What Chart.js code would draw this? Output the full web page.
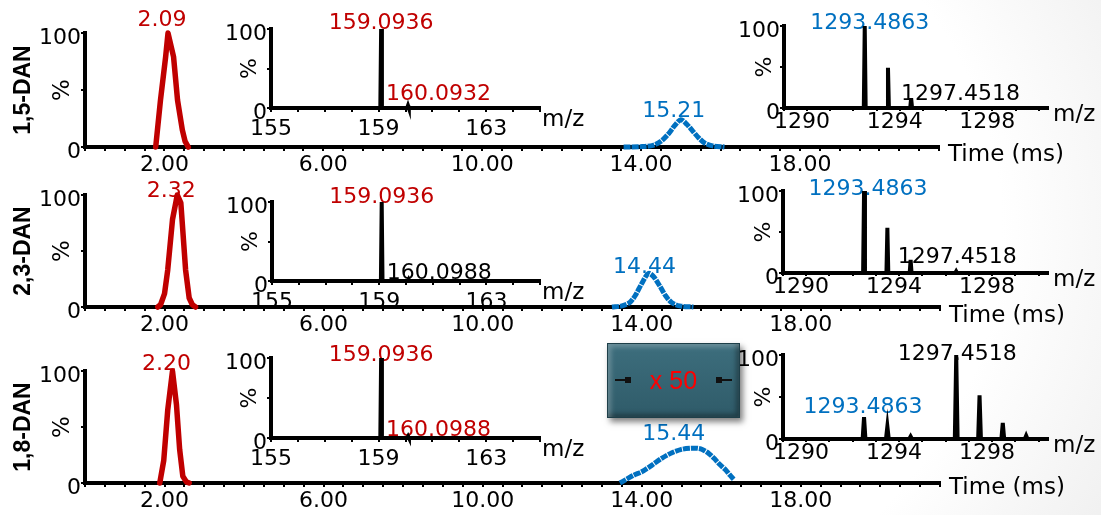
<!DOCTYPE html>
<html lang="en">
<head>
<meta charset="UTF-8">
<title>DAN isomers - arrival time and mass spectra</title>
<script src="https://cdn.jsdelivr.net/npm/chart.js"></script>
<style>
  html, body { margin: 0; padding: 0; }
  body { width: 1101px; height: 515px; position: relative; overflow: hidden;
         background: radial-gradient(ellipse 80% 130% at 35% 45%, #ffffff 70%, #ebebeb 100%); }
  canvas { position: absolute; }
  .mag { position: absolute; left: 607px; top: 343px; width: 133px; height: 75px; box-sizing: border-box;
         background: linear-gradient(#3d6e7d, #2f5b69); border: 1px solid #1e3f49;
         box-shadow: 3px 4px 6px rgba(0,0,0,0.5), inset 3px 3px 5px rgba(255,255,255,0.25), inset -3px -3px 5px rgba(0,0,0,0.35);
         color: #ff0000; font: 25px "Liberation Sans", Arial, sans-serif; text-align: center; line-height: 73px; }
  .mag .l, .mag .r { position: absolute; top: 35px; width: 16px; height: 2px; background: #111; }
  .mag .l { left: 7px; } .mag .r { right: 7px; }
  .mag .l::after, .mag .r::after { content: ""; position: absolute; top: -2px; width: 6px; height: 6px; background: #111; }
  .mag .l::after { right: 0; } .mag .r::after { left: 0; }
</style>
</head>
<body>
<canvas id="main1"></canvas><canvas id="main2"></canvas><canvas id="main3"></canvas>
<canvas id="low1"></canvas><canvas id="low2"></canvas><canvas id="low3"></canvas>
<canvas id="high1"></canvas><canvas id="high2"></canvas><canvas id="high3"></canvas>
<div class="mag"><span class="l"></span>x 50<span class="r"></span></div>

<script>
// tick labels
const timeTicks = [2, 6, 10, 14, 18];
const lowMzTicks = [155, 159, 163];
const highMzTicks = [1290, 1294, 1298];

// arrival time traces (ms, %)
const red15T = [1.78, 1.9, 2.03, 2.09, 2.23, 2.33, 2.45, 2.52, 2.6];
const red15I = [0, 41, 79, 100, 79, 41, 15, 5, 0];
const blue15T = [13.56, 14.0, 14.3, 14.5, 14.7, 14.85, 15.0, 15.15, 15.3, 15.45, 15.6, 15.8, 16.1];
const blue15I = [0, 0.3, 1.5, 5, 12, 19, 24, 20, 14, 8, 3.5, 1, 0];

const red23T = [1.83, 1.9, 2.0, 2.08, 2.2, 2.32, 2.41, 2.53, 2.62, 2.7, 2.78];
const red23I = [0, 2, 12, 33, 78, 100, 93, 33, 8, 2, 0];
const blue23T = [13.25, 13.5, 13.7, 13.85, 14.0, 14.17, 14.3, 14.45, 14.6, 14.75, 14.95, 15.3];
const blue23I = [0, 1, 4, 11, 21, 30, 27, 19, 10, 4, 1, 0];

const red18T = [1.88, 1.98, 2.08, 2.2, 2.3, 2.38, 2.46, 2.55, 2.62];
const red18I = [0, 20, 65, 100, 70, 30, 6, 1, 0];
const blue18T = [13.45, 13.6, 13.8, 14.0, 14.26, 14.5, 14.76, 15.0, 15.21, 15.4, 15.52, 15.7, 15.82, 15.95, 16.1, 16.22, 16.32];
const blue18I = [0, 3, 7, 10, 16, 22, 27, 30, 31, 31, 30, 26, 22, 17, 12, 7, 3];

// mass spectra (m/z, %)
const low15Mz = [159.0936, 160.0932], low15I = [100, 3];
const low23Mz = [159.0936, 160.0988], low23I = [100, 2];
const low18Mz = [159.0936, 160.0988], low18I = [100, 2];
const high15Mz = [1293.4863, 1294.49, 1295.49], high15I = [100, 49, 12];
const high23Mz = [1293.4863, 1294.49, 1295.49, 1297.45], high23I = [100, 55, 16, 2];
const high18Mz = [1293.4863, 1294.49, 1295.49, 1297.4518, 1298.455, 1299.455, 1300.46];
const high18I = [26, 15, 3, 100, 52, 19, 4];

const RED = '#c00000', BLUE = '#0070c0';
Chart.defaults.font.family = '"DejaVu Sans", sans-serif';
Chart.defaults.color = '#000';

const xy = (xs, ys) => xs.map((x, i) => ({ x, y: ys[i] }));
const sticks = (mz, ints, w) => mz.flatMap((m, i) => [{ x: m - w, y: 0 }, { x: m, y: ints[i] }, { x: m + w, y: 0 }]);

function notes(list) {
  return {
    id: 'notes',
    beforeDatasetsDraw(chart) {
      const { ctx, chartArea: ca, scales } = chart;
      list.forEach(n => {
        let x, y;
        if (n.at) { x = scales.x.getPixelForValue(n.at[0]); y = scales.y.getPixelForValue(n.at[1]); }
        else { x = n.px(ca); y = n.py(ca); }
        ctx.save();
        ctx.translate(x + (n.dx || 0), y + (n.dy || 0));
        if (n.rot) ctx.rotate(-Math.PI / 2);
        ctx.font = n.font || '22px "DejaVu Sans"';
        ctx.fillStyle = n.color || '#000';
        ctx.textAlign = n.align || 'center';
        ctx.textBaseline = 'middle';
        ctx.fillText(n.text, 0, 0);
        ctx.restore();
      });
    }
  };
}

// m = [left, top, right, bottom] space around the plot area
function plot(id, box, m, datasets, x, noteList) {
  const c = document.getElementById(id);
  c.width = box.r - box.l + m[0] + m[2];
  c.height = box.b - box.t + m[1] + m[3];
  c.style.left = (box.l - m[0]) + 'px';
  c.style.top = (box.t - m[1]) + 'px';
  return new Chart(c, {
    type: 'line',
    data: { datasets },
    options: {
      responsive: false, devicePixelRatio: 1, animation: false,
      layout: { padding: { left: 0, top: m[1], right: m[2], bottom: 0 } },
      plugins: { legend: { display: false }, tooltip: { enabled: false } },
      elements: { point: { radius: 0 } },
      scales: {
        x: {
          type: 'linear', min: x.min, max: x.max,
          afterFit: s => { s.height = m[3]; },
          border: { color: '#000', width: 4 },
          grid: { drawOnChartArea: false, color: '#000', lineWidth: 2, tickLength: x.tl },
          ticks: {
            stepSize: x.step, autoSkip: false, maxRotation: 0, includeBounds: false,
            padding: x.pad, labelOffset: x.off || 0, font: { size: 22 },
            callback: v => x.labels.includes(v) ? x.fmt(v) : ''
          }
        },
        y: {
          min: 0, max: 100,
          afterFit: s => { s.width = m[0]; },
          border: { color: '#000', width: 4 },
          grid: { drawOnChartArea: false, color: '#000', lineWidth: 2, tickLength: 4 },
          ticks: { stepSize: 50, padding: 0, labelOffset: 5, font: { size: 22 }, callback: v => v === 50 ? '' : v }
        }
      }
    },
    plugins: [notes(noteList)]
  });
}

const redLine = d => ({ data: d, borderColor: RED, borderWidth: 5.5, borderJoinStyle: 'round', borderCapStyle: 'round', clip: false });
const blueLine = d => ({ data: d, borderColor: BLUE, borderWidth: 5, borderDash: [7, 1], tension: 0.3, clip: false });
const stickLine = d => ({ data: d, borderColor: '#000', borderWidth: 4, clip: false });

const timeAxis = { min: 0, max: 21.5, step: 0.5, tl: 4, pad: 1, labels: timeTicks, fmt: v => v.toFixed(2) };
const lowAxis = { min: 155, max: 165, step: 1, tl: 4, pad: 4, labels: lowMzTicks, fmt: v => String(v) };
const highAxis = { min: 1290, max: 1301.4, step: 1, tl: 3, pad: -2, off: 18, labels: highMzTicks, fmt: v => String(v) };

const rows = [
  { name: '1,5-DAN', main: { l: 85, r: 939, t: 33, b: 147 }, mm: [85, 33, 162, 28], tms: 8,
    low: { l: 271, r: 540, t: 29, b: 108 }, high: { l: 784, r: 1048, t: 26, b: 108 },
    red: xy(red15T, red15I), blue: xy(blue15T, blue15I),
    lowS: sticks(low15Mz, low15I, 0.03), highS: sticks(high15Mz, high15I, 0.04),
    mainNotes: [
      { text: '2.09', at: [2.09, 100], dx: -6, dy: -13, color: RED },
      { text: '15.21', at: [15.0, 24], dx: -7, dy: -8, color: BLUE }
    ],
    lowNotes: [
      { text: '159.0936', at: [159.0936, 100], dy: -6, color: RED },
      { text: '160.0932', at: [159.0936, 0], dx: 5, dy: -14, align: 'left', color: RED }
    ],
    highNotes: [
      { text: '1293.4863', at: [1293.4863, 100], dx: 5, dy: -3, color: BLUE },
      { text: '1297.4518', at: [1297.4518, 0], dx: 4, dy: -14 }
    ] },
  { name: '2,3-DAN', main: { l: 85, r: 940, t: 195, b: 307 }, mm: [85, 30, 161, 30], tms: 9,
    low: { l: 272, r: 540, t: 202, b: 281 }, high: { l: 783, r: 1048, t: 191, b: 273 },
    red: xy(red23T, red23I), blue: xy(blue23T, blue23I),
    lowS: sticks(low23Mz, low23I, 0.03), highS: sticks(high23Mz, high23I, 0.04),
    mainNotes: [
      { text: '2.32', at: [2.32, 100], dx: -6, dy: -4, color: RED },
      { text: '14.44', at: [14.17, 30], dx: -4, dy: -6, color: BLUE }
    ],
    lowNotes: [
      { text: '159.0936', at: [159.0936, 100], dy: -5, color: RED },
      { text: '160.0988', at: [159.0936, 0], dx: 5, dy: -8, align: 'left' }
    ],
    highNotes: [
      { text: '1293.4863', at: [1293.4863, 100], dx: 4, dy: -2, color: BLUE },
      { text: '1297.4518', at: [1297.4518, 0], dx: 1, dy: -16 }
    ] },
  { name: '1,8-DAN', main: { l: 85, r: 940, t: 371, b: 483 }, mm: [85, 31, 161, 32], tms: 5,
    low: { l: 271, r: 540, t: 358, b: 438 }, high: { l: 783, r: 1048, t: 355, b: 439 },
    red: xy(red18T, red18I), blue: xy(blue18T, blue18I),
    lowS: sticks(low18Mz, low18I, 0.03), highS: sticks(high18Mz, high18I, 0.06),
    mainNotes: [
      { text: '2.20', at: [2.2, 100], dx: -6, dy: -7, color: RED },
      { text: '15.44', at: [15.21, 31], dx: -16, dy: -14, color: BLUE }
    ],
    lowNotes: [
      { text: '159.0936', at: [159.0936, 100], dy: -3, color: RED },
      { text: '160.0988', at: [159.0936, 0], dx: 5, dy: -8, align: 'left', color: RED }
    ],
    highNotes: [
      { text: '1297.4518', at: [1297.4518, 100], dx: 1, dy: -1 },
      { text: '1293.4863', at: [1293.4863, 0], dx: -1, dy: -32, color: BLUE }
    ] }
];

rows.forEach((r, i) => {
  const mid = ca => (ca.top + ca.bottom) / 2;
  plot('main' + (i + 1), r.main, r.mm, [redLine(r.red), blueLine(r.blue)], timeAxis, [
    ...r.mainNotes,
    { text: 'Time (ms)', px: ca => ca.right + 9, py: ca => ca.bottom + r.tms, align: 'left', font: '23px "DejaVu Sans"' },
    { text: r.name, px: () => 24, py: mid, rot: true, font: 'bold 23px "Liberation Sans"' },
    { text: '%', px: () => 63, py: mid, rot: true, font: '23px "DejaVu Sans"' }
  ]);
  plot('low' + (i + 1), r.low, [48, 26, 55, 34], [stickLine(r.lowS)], lowAxis, [
    ...r.lowNotes,
    { text: '%', px: ca => ca.left - 21, py: mid, rot: true },
    { text: 'm/z', px: ca => ca.right + 2, py: ca => ca.bottom + 12, align: 'left', font: '23px "DejaVu Sans"' }
  ]);
  plot('high' + (i + 1), r.high, [48, 26, 53, 34], [stickLine(r.highS)], highAxis, [
    ...r.highNotes,
    { text: '%', px: ca => ca.left - 19, py: mid, rot: true },
    { text: 'm/z', px: ca => ca.right + 5, py: ca => ca.bottom + 7, align: 'left', font: '23px "DejaVu Sans"' }
  ]);
});
</script>
</body>
</html>
